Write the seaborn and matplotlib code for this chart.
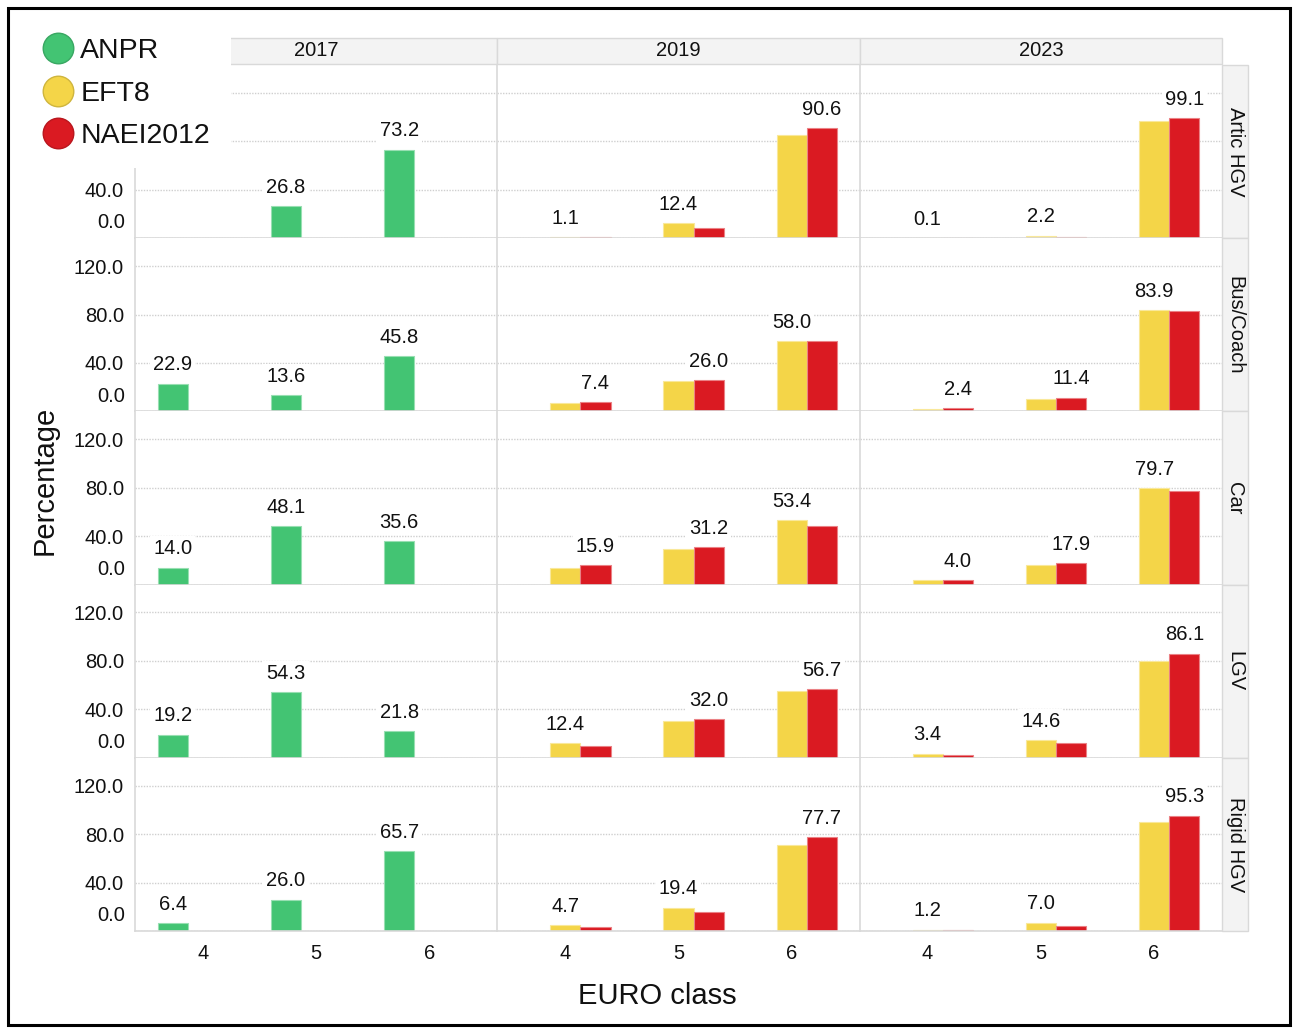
import numpy as np
import pandas as pd
import matplotlib
matplotlib.use("Agg")
import matplotlib.pyplot as plt
import matplotlib.colors as mcolors
from matplotlib.patches import Rectangle
from matplotlib.lines import Line2D
from matplotlib.ticker import FuncFormatter
import seaborn as sns

# ---------------------------------------------------------------- data
vehicles = ["Artic HGV", "Bus/Coach", "Car", "LGV", "Rigid HGV"]
years = ["2017", "2019", "2023"]
euro_classes = ["4", "5", "6"]
sources = ["ANPR", "EFT8", "NAEI2012"]
source_colors = ["#43C473", "#F4D548", "#DA1A22"]

# rows follow `vehicles`, columns follow `euro_classes` (percent of fleet)
anpr_2017 = [
    [np.nan, 26.8, 73.2],
    [22.9, 13.6, 45.8],
    [14.0, 48.1, 35.6],
    [19.2, 54.3, 21.8],
    [6.4, 26.0, 65.7],
]
eft8_2019 = [
    [1.1, 12.4, 85.2],
    [7.2, 25.3, 58.0],
    [13.5, 29.7, 53.4],
    [12.4, 30.0, 54.8],
    [4.7, 19.4, 70.6],
]
naei_2019 = [
    [1.0, 8.3, 90.6],
    [7.4, 26.0, 57.8],
    [15.9, 31.2, 48.5],
    [9.9, 32.0, 56.7],
    [3.0, 15.7, 77.7],
]
eft8_2023 = [
    [0.1, 2.2, 96.8],
    [2.2, 10.0, 83.9],
    [3.8, 16.3, 79.7],
    [3.4, 14.6, 80.0],
    [1.2, 7.0, 90.2],
]
naei_2023 = [
    [0.1, 0.8, 99.1],
    [2.4, 11.4, 82.9],
    [4.0, 17.9, 77.0],
    [1.9, 11.9, 86.1],
    [1.0, 4.1, 95.3],
]

tables = [
    ("2017", "ANPR", anpr_2017),
    ("2019", "EFT8", eft8_2019),
    ("2019", "NAEI2012", naei_2019),
    ("2023", "EFT8", eft8_2023),
    ("2023", "NAEI2012", naei_2023),
]
records = []
for year, src, table in tables:
    for vi, veh in enumerate(vehicles):
        for ei, cls in enumerate(euro_classes):
            records.append(dict(vehicle=veh, year=year, euro=cls,
                                source=src, share=table[vi][ei]))
df = pd.DataFrame(records).dropna()

# ---------------------------------------------------------------- style
sns.set_style("white")
plt.rcParams["font.family"] = ["Liberation Sans", "DejaVu Sans"]
plt.rcParams["text.color"] = "#111111"
plt.rcParams["xtick.color"] = "#111111"
plt.rcParams["ytick.color"] = "#111111"

W, H = 1297, 1028
FS = 14.5
GRID = "#D9D9D9"
palette = dict(zip(sources, source_colors))


def fx(px):
    return px / W


def fy(py):
    return 1 - py / H


fig, axes = plt.subplots(
    5, 3, figsize=(W / 100, H / 100), dpi=100, sharex=True, sharey=True,
    gridspec_kw=dict(left=fx(135), right=fx(1222), top=fy(65),
                     bottom=fy(931), wspace=0, hspace=0))
fig.patch.set_facecolor("white")

for r, veh in enumerate(vehicles):
    for c, year in enumerate(years):
        ax = axes[r, c]
        sub = df[(df.vehicle == veh) & (df.year == year)]
        sns.barplot(data=sub, x="euro", y="share", hue="source",
                    order=euro_classes, hue_order=sources, palette=palette,
                    saturation=1, width=0.8, dodge=True, errorbar=None,
                    legend=False, ax=ax)
        for p in ax.patches:
            fc = np.array(mcolors.to_rgb(p.get_facecolor()))
            p.set_edgecolor(tuple(fc + (1 - fc) * 0.45))
            p.set_linewidth(0.8)

        # value label over the tallest bar of each EURO class
        tallest = {}
        for p in ax.patches:
            h = p.get_height()
            if not np.isfinite(h):
                continue
            xc = p.get_x() + p.get_width() / 2
            k = int(round(xc))
            if k not in tallest or h > tallest[k][1]:
                tallest[k] = (xc, h)
        for xc, h in tallest.values():
            ax.annotate(f"{h:.1f}", xy=(xc, h), xytext=(0, 9.5),
                        textcoords="offset points", ha="center",
                        va="baseline", fontsize=FS, zorder=6,
                        bbox=dict(boxstyle="square,pad=0.15", fc="white",
                                  ec="none"))

        ax.set_xlabel("")
        ax.set_ylabel("")
        ax.set_xlim(-0.6, 2.6)
        ax.set_ylim(0, 143)
        ax.set_yticks([0, 40, 80, 120])
        ax.yaxis.set_major_formatter(
            FuncFormatter(lambda v, p: "" if v == 0 else f"{v:.1f}"))
        ax.yaxis.grid(True, linestyle=(0, (1, 1)), color="#CFCFCF",
                      linewidth=1)
        ax.xaxis.grid(False)
        ax.set_axisbelow(True)
        for s in ("top", "right"):
            ax.spines[s].set_visible(False)
        for s in ("left", "bottom"):
            ax.spines[s].set_color(GRID)
            ax.spines[s].set_linewidth(1.2)
        ax.tick_params(axis="y", length=4 if c == 0 else 0, width=1,
                       color=GRID, pad=4, labelsize=FS)
        ax.tick_params(axis="x", which="major", length=0, pad=9,
                       labelsize=FS)
        ax.set_xticks([-0.5, 0.5, 1.5, 2.5], minor=True)
        ax.tick_params(axis="x", which="minor",
                       length=6 if r == len(vehicles) - 1 else 0,
                       color="#CCCCCC", width=1)
        if c == 0:
            ax.annotate("0.0", xy=(0, 0), xycoords=("axes fraction", "data"),
                        xytext=(-7, 11), textcoords="offset points",
                        ha="right", va="center", fontsize=FS)

# the legend block sits over the upper tick labels of the first row
for tick in axes[0, 0].yaxis.get_major_ticks()[2:]:
    tick.label1.set_visible(False)
    tick.tick1line.set_visible(False)

# ---------------------------------------------------------------- strips
for c, year in enumerate(years):
    pos = axes[0, c].get_position()
    fig.patches.append(Rectangle((pos.x0, fy(64)), pos.width, (64 - 38) / H,
                                 transform=fig.transFigure, fc="#F3F3F3",
                                 ec=GRID, lw=1, zorder=1))
    fig.text(pos.x0 + pos.width / 2, fy(51), year, ha="center", va="center",
             fontsize=FS, zorder=1.5)

for r, veh in enumerate(vehicles):
    pos = axes[r, 2].get_position()
    fig.patches.append(Rectangle((pos.x1, pos.y0), fx(26), pos.height,
                                 transform=fig.transFigure, fc="#F3F3F3",
                                 ec=GRID, lw=1, zorder=1))
    fig.text(pos.x1 + fx(13), pos.y0 + pos.height / 2, veh, rotation=-90,
             ha="center", va="center", fontsize=FS, zorder=1.5)

# ---------------------------------------------------------------- legend
fig.patches.append(Rectangle((0, fy(168)), fx(231), 168 / H,
                             transform=fig.transFigure, fc="white",
                             ec="none", zorder=2))
handles = [
    Line2D([], [], marker="o", linestyle="", markersize=22,
           markerfacecolor=col,
           markeredgecolor=tuple(np.array(mcolors.to_rgb(col)) * 0.85),
           markeredgewidth=1)
    for col in source_colors
]
leg = fig.legend(handles, sources, loc="upper left",
                 bbox_to_anchor=(fx(42), fy(38)), frameon=False,
                 fontsize=20.5, handletextpad=0.25, labelspacing=0.58,
                 borderpad=0, borderaxespad=0, handlelength=1.1)
leg.set_zorder(3)

# ---------------------------------------------------------------- labels
fig.text(fx(45), fy(480), "Percentage", rotation=90, ha="center",
         va="center", fontsize=21)
fig.text(fx(657), fy(996), "EURO class", ha="center", va="center",
         fontsize=21)

fig.patches.append(Rectangle((fx(8), fy(1025)), fx(1290) - fx(8),
                             (1025 - 8) / H, transform=fig.transFigure,
                             fill=False, ec="black", lw=2.2, zorder=10))

fig.savefig("out.png", dpi=100, facecolor="white")
